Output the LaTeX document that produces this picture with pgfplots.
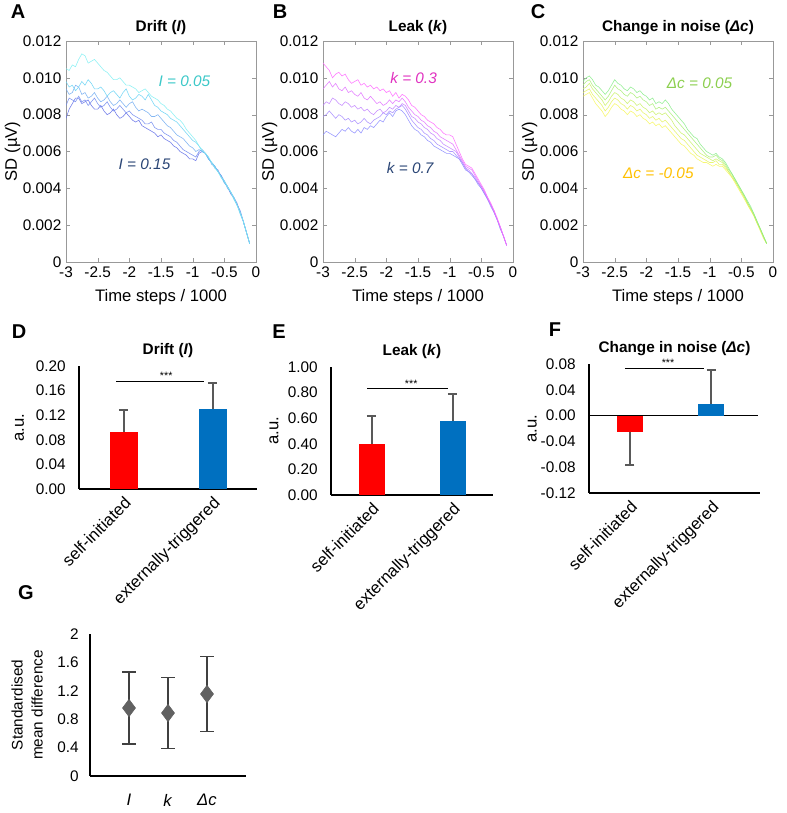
\documentclass[border=0pt]{standalone}
\usepackage{fontspec}
\setmainfont{Liberation Sans}
\usepackage{pgfplots}
\usepackage{pgfplotstable}
\pgfplotsset{compat=1.18}

\definecolor{cA1}{HTML}{7FEFF2}
\definecolor{cA2}{HTML}{66D2F4}
\definecolor{cA3}{HTML}{6FAAF0}
\definecolor{cA4}{HTML}{6F88EE}
\definecolor{cA5}{HTML}{5F6CE6}
\definecolor{cB1}{HTML}{FF66FF}
\definecolor{cB2}{HTML}{E070FF}
\definecolor{cB3}{HTML}{C080FF}
\definecolor{cB4}{HTML}{A488FF}
\definecolor{cB5}{HTML}{8A8AFF}
\definecolor{cC1}{HTML}{86EC86}
\definecolor{cC2}{HTML}{A6EE72}
\definecolor{cC3}{HTML}{C8F064}
\definecolor{cC4}{HTML}{E4F25E}
\definecolor{cC5}{HTML}{F6F65A}
\definecolor{lblcyan}{HTML}{3CC8C8}
\definecolor{lblnavy}{HTML}{2B4676}
\definecolor{lblmag}{HTML}{E033C0}
\definecolor{lblgreen}{HTML}{8CCF4F}
\definecolor{lblgold}{HTML}{FFC000}
\definecolor{barred}{HTML}{FF0000}
\definecolor{barblue}{HTML}{0070C0}
\definecolor{errgray}{HTML}{595959}

\newcommand{\ticksize}{\fontsize{11.5}{13}\selectfont}
\newcommand{\labsize}{\fontsize{12.5}{15}\selectfont}
\newcommand{\titsize}{\fontsize{11.5}{13}\selectfont}

% SD traces, x in 1000 time steps, SD in units of 0.001 muV
\pgfplotstableread{
x a b c d e
-3.00 10.5 9.8 9.4 8.5 7.8
-2.95 10.4 9.5 9.1 8.9 8.3
-2.90 10.7 9.6 9.2 8.8 8.6
-2.85 10.6 9.3 9.6 8.7 8.9
-2.80 11.0 9.5 9.5 9.0 8.9
-2.75 11.3 9.8 9.1 8.7 8.6
-2.70 11.2 9.6 9.2 8.8 8.7
-2.65 10.8 9.9 8.9 8.5 8.8
-2.60 10.9 9.7 9.0 8.7 8.5
-2.55 11.0 9.4 9.2 8.9 8.3
-2.50 10.8 9.4 8.9 8.6 8.3
-2.45 10.6 9.5 8.7 8.4 8.5
-2.40 10.4 9.3 8.8 8.5 8.2
-2.35 10.3 9.0 9.0 8.7 8.0
-2.30 10.1 9.2 8.7 8.4 8.1
-2.25 9.9 9.3 8.5 8.2 8.3
-2.20 9.9 9.1 8.6 8.3 8.0
-2.15 10.0 8.9 8.8 8.5 7.8
-2.10 9.8 9.2 8.6 8.3 7.9
-2.05 9.6 9.4 8.4 8.1 8.1
-2.00 9.6 9.0 8.6 8.2 7.9
-1.95 9.5 8.8 8.7 8.0 7.7
-1.90 9.4 8.9 8.4 7.9 7.6
-1.85 9.2 9.1 8.2 7.8 7.7
-1.80 9.3 9.0 8.3 7.7 7.4
-1.75 9.4 8.8 8.2 7.5 7.3
-1.70 9.2 9.1 8.1 7.5 7.2
-1.65 9.0 8.8 7.9 7.6 7.1
-1.60 8.9 8.5 7.9 7.3 7.0
-1.55 8.8 8.4 8.0 7.2 6.8
-1.50 8.6 8.2 7.8 7.2 6.9
-1.45 8.5 8.1 7.6 7.0 6.7
-1.40 8.3 8.0 7.4 6.9 6.6
-1.35 8.2 7.8 7.3 6.8 6.5
-1.30 8.0 7.7 7.1 6.6 6.3
-1.25 7.8 7.6 6.9 6.5 6.2
-1.20 7.7 7.4 6.8 6.3 6.0
-1.15 7.5 7.2 6.7 6.1 5.9
-1.10 7.2 7.0 6.5 6.0 5.8
-1.05 7.0 6.8 6.3 5.9 5.6
-1.00 6.8 6.6 6.2 5.8 5.6
-0.95 6.6 6.5 6.0 5.7 5.5
-0.90 6.3 6.3 6.1 6.0 5.9
-0.85 6.1 6.0 6.0 6.1 6.0
-0.80 5.9 5.9 5.9 5.9 5.9
-0.75 5.7 5.6 5.7 5.6 5.6
-0.70 5.4 5.4 5.3 5.4 5.4
-0.65 5.1 5.2 5.2 5.1 5.2
-0.60 4.9 4.9 4.9 5.0 4.9
-0.55 4.6 4.6 4.7 4.6 4.7
-0.50 4.4 4.3 4.4 4.4 4.3
-0.45 4.1 4.1 4.0 4.1 4.1
-0.40 3.8 3.8 3.8 3.8 3.7
-0.35 3.5 3.4 3.5 3.5 3.5
-0.30 3.1 3.1 3.1 3.1 3.2
-0.25 2.7 2.6 2.7 2.8 2.7
-0.20 2.2 2.2 2.2 2.2 2.2
-0.15 1.6 1.6 1.6 1.6 1.6
-0.10 1.0 1.0 1.0 1.0 1.0
}\tabA

\pgfplotstableread{
x a b c d e
-3.00 10.8 9.4 8.5 7.9 6.9
-2.95 10.6 9.6 8.7 8.0 7.1
-2.90 10.4 9.8 8.6 8.2 7.0
-2.85 10.0 9.5 8.9 8.0 6.9
-2.80 10.2 9.7 8.8 7.8 6.8
-2.75 10.3 9.4 8.6 8.0 7.0
-2.70 10.1 9.3 8.5 7.9 7.2
-2.65 10.2 9.5 8.7 7.7 7.1
-2.60 9.9 9.2 8.6 7.8 7.3
-2.55 9.7 9.3 8.4 7.6 7.1
-2.50 9.8 9.1 8.5 7.7 7.0
-2.45 9.9 9.0 8.3 7.5 7.2
-2.40 9.6 9.2 8.4 7.6 7.0
-2.35 9.7 8.9 8.2 7.8 7.3
-2.30 9.5 8.8 8.3 7.6 7.2
-2.25 9.6 9.0 8.1 7.5 7.4
-2.20 9.4 8.8 8.0 7.7 7.3
-2.15 9.5 8.6 8.2 7.8 7.5
-2.10 9.3 8.7 8.3 7.9 7.7
-2.05 9.4 8.5 8.1 8.1 7.6
-2.00 9.2 8.6 8.2 8.0 7.9
-1.95 9.3 8.8 8.4 8.2 8.1
-1.90 9.0 8.6 8.3 8.1 7.9
-1.85 9.2 8.8 8.5 8.3 8.2
-1.80 8.9 8.7 8.4 8.4 8.3
-1.75 9.1 8.9 8.6 8.5 8.2
-1.70 9.0 8.7 8.5 8.3 8.0
-1.65 8.8 8.4 8.2 8.0 7.7
-1.60 8.5 8.2 7.9 7.7 7.4
-1.55 8.4 8.0 7.8 7.5 7.2
-1.50 8.2 7.9 7.6 7.3 7.1
-1.45 8.0 7.7 7.5 7.2 6.9
-1.40 7.9 7.6 7.3 7.0 6.8
-1.35 7.7 7.4 7.2 6.9 6.6
-1.30 7.6 7.3 7.0 6.7 6.5
-1.25 7.5 7.1 6.9 6.6 6.3
-1.20 7.3 7.0 6.7 6.4 6.2
-1.15 7.2 6.8 6.6 6.3 6.1
-1.10 7.0 6.7 6.4 6.2 6.0
-1.05 6.9 6.6 6.3 6.1 5.9
-1.00 6.9 6.5 6.2 6.0 5.9
-0.95 6.8 6.4 6.1 6.0 5.8
-0.90 6.4 6.1 6.0 5.8 5.7
-0.85 6.0 5.8 5.7 5.6 5.6
-0.80 5.6 5.5 5.4 5.4 5.3
-0.75 5.3 5.2 5.1 5.1 5.0
-0.70 5.2 5.1 5.0 4.9 4.9
-0.65 5.1 5.0 4.8 4.8 4.7
-0.60 4.8 4.7 4.6 4.5 4.5
-0.55 4.5 4.4 4.3 4.3 4.2
-0.50 4.2 4.1 4.1 4.0 4.0
-0.45 3.9 3.8 3.8 3.7 3.7
-0.40 3.5 3.5 3.4 3.4 3.4
-0.35 3.2 3.1 3.1 3.1 3.0
-0.30 2.8 2.8 2.7 2.7 2.7
-0.25 2.4 2.3 2.3 2.3 2.3
-0.20 1.9 1.9 1.9 1.8 1.8
-0.15 1.4 1.4 1.4 1.4 1.4
-0.10 0.9 0.9 0.9 0.9 0.9
}\tabB

\pgfplotstableread{
x a b c d e
-3.00 9.8 9.6 9.4 9.2 9.0
-2.95 10.0 9.8 9.5 9.3 9.1
-2.90 10.1 9.9 9.7 9.4 9.2
-2.85 9.9 9.6 9.4 9.1 8.9
-2.80 9.6 9.4 9.2 8.9 8.6
-2.75 9.5 9.2 9.0 8.7 8.4
-2.70 9.3 9.0 8.8 8.5 8.2
-2.65 9.1 8.8 8.5 8.2 7.9
-2.60 9.3 9.0 8.7 8.4 8.1
-2.55 9.6 9.3 9.0 8.7 8.4
-2.50 9.9 9.6 9.2 8.9 8.6
-2.45 9.7 9.4 9.1 8.8 8.5
-2.40 9.6 9.3 8.9 8.6 8.3
-2.35 9.4 9.1 8.8 8.5 8.2
-2.30 9.3 9.0 8.6 8.3 8.0
-2.25 9.5 9.2 8.8 8.5 8.2
-2.20 9.4 9.1 8.7 8.4 8.1
-2.15 9.2 8.9 8.5 8.2 7.9
-2.10 9.3 9.0 8.6 8.3 8.0
-2.05 9.1 8.8 8.4 8.1 7.8
-2.00 9.0 8.7 8.3 8.0 7.7
-1.95 8.8 8.5 8.1 7.8 7.5
-1.90 8.9 8.6 8.2 7.9 7.6
-1.85 8.6 8.3 8.0 7.7 7.4
-1.80 8.7 8.4 8.1 7.8 7.5
-1.75 8.6 8.3 8.0 7.6 7.3
-1.70 8.8 8.4 8.1 7.7 7.4
-1.65 8.6 8.2 7.9 7.5 7.2
-1.60 8.3 8.0 7.7 7.3 7.0
-1.55 8.1 7.8 7.4 7.1 6.8
-1.50 7.9 7.6 7.2 6.9 6.6
-1.45 7.7 7.4 7.0 6.7 6.4
-1.40 7.5 7.2 6.9 6.6 6.3
-1.35 7.2 7.0 6.7 6.4 6.1
-1.30 7.0 6.8 6.5 6.2 5.9
-1.25 6.8 6.6 6.3 6.0 5.8
-1.20 6.7 6.4 6.1 5.8 5.6
-1.15 6.4 6.2 5.9 5.7 5.5
-1.10 6.2 6.0 5.8 5.6 5.4
-1.05 6.0 5.8 5.7 5.5 5.4
-1.00 5.9 5.7 5.6 5.4 5.3
-0.95 5.8 5.7 5.5 5.4 5.2
-0.90 5.9 5.8 5.6 5.5 5.3
-0.85 5.7 5.6 5.5 5.3 5.2
-0.80 5.6 5.5 5.4 5.3 5.2
-0.75 5.4 5.3 5.2 5.1 5.0
-0.70 5.1 5.0 4.9 4.9 4.8
-0.65 4.8 4.8 4.7 4.6 4.6
-0.60 4.5 4.5 4.4 4.4 4.3
-0.55 4.2 4.2 4.1 4.1 4.0
-0.50 3.9 3.9 3.8 3.8 3.7
-0.45 3.6 3.6 3.5 3.5 3.4
-0.40 3.3 3.2 3.2 3.1 3.1
-0.35 3.0 2.9 2.9 2.8 2.8
-0.30 2.6 2.6 2.5 2.5 2.5
-0.25 2.2 2.2 2.1 2.1 2.1
-0.20 1.8 1.8 1.8 1.7 1.7
-0.15 1.4 1.4 1.4 1.3 1.3
-0.10 1.0 1.0 1.0 1.0 1.0
}\tabC

\pgfplotsset{
  /pgf/number format/assume math mode=true,
  tracebox/.style={
    scale only axis, width=142.5pt, height=165.75pt,
    xmin=-3, xmax=0, ymin=0, ymax=12,
    xtick={-3,-2.5,-2,-1.5,-1,-0.5,0},
    ytick={0,2,4,6,8,10,12},
    yticklabels={0,0.002,0.004,0.006,0.008,0.010,0.012},
    axis line style={black!40}, tick style={black!40},
    major tick length=3pt,
    tick label style={font=\ticksize},
    xlabel={Time steps / 1000}, ylabel={SD (µV)},
    label style={font=\labsize},
    xlabel style={yshift=-2pt},
    ylabel style={yshift=-5pt},
    title style={font=\titsize\bfseries, yshift=-5pt},
    every axis plot/.append style={line width=0.45pt, opacity=0.85},
  },
  barbox/.style={
    scale only axis, xmin=-0.5, xmax=1.5, clip=false,
    axis x line*=bottom, axis y line*=left,
    axis line style={-, black, line width=0.8pt},
    xtick={0,1}, xticklabels={self-initiated,externally-triggered},
    x tick label style={rotate=45, anchor=north east, font=\labsize},
    y tick label style={font=\ticksize, xshift=-6.5pt},
    yticklabel style={/pgf/number format/fixed, /pgf/number format/fixed zerofill, /pgf/number format/precision=2},
    major tick length=0pt,
    ylabel={a.u.}, label style={font=\labsize},
    title style={font=\titsize\bfseries, yshift=-3pt},
  },
  barerr/.style={
    ybar, bar shift=0pt, draw=none,
    error bars/y explicit,
    error bars/error bar style={errgray, line width=1.5pt},
    error bars/error mark options={errgray, rotate=90, mark size=3.4pt, line width=1.5pt},
  },
}

\begin{document}
\begin{tikzpicture}
\useasboundingbox (0,0) rectangle (590.25pt,609.75pt);

% ---------- A: drift ----------
\begin{axis}[tracebox, at={(49.5pt,413.25pt)}, anchor=south west,
  title={Drift (\textit{I})}]
  \addplot[cA5] table[x=x,y=e]{\tabA};
  \addplot[cA4] table[x=x,y=d]{\tabA};
  \addplot[cA3] table[x=x,y=c]{\tabA};
  \addplot[cA2] table[x=x,y=b]{\tabA};
  \addplot[cA1] table[x=x,y=a]{\tabA};
  \node[text=lblcyan, font=\titsize] at (axis cs:-1.13,9.8) {\textit{I = 0.05}};
  \node[text=lblnavy, font=\titsize] at (axis cs:-1.76,5.3) {\textit{I = 0.15}};
\end{axis}

% ---------- B: leak ----------
\begin{axis}[tracebox, at={(242.25pt,413.25pt)}, anchor=south west,
  title={Leak (\textit{k})}]
  \addplot[cB5] table[x=x,y=e]{\tabB};
  \addplot[cB4] table[x=x,y=d]{\tabB};
  \addplot[cB3] table[x=x,y=c]{\tabB};
  \addplot[cB2] table[x=x,y=b]{\tabB};
  \addplot[cB1] table[x=x,y=a]{\tabB};
  \node[text=lblmag, font=\titsize] at (axis cs:-1.57,10.0) {\textit{k = 0.3}};
  \node[text=lblnavy, font=\titsize] at (axis cs:-1.62,5.1) {\textit{k = 0.7}};
\end{axis}

% ---------- C: change in noise ----------
\begin{axis}[tracebox, at={(437.25pt,413.25pt)}, anchor=south west,
  title={Change in noise (\textit{Δc})}]
  \addplot[cC5] table[x=x,y=e]{\tabC};
  \addplot[cC4] table[x=x,y=d]{\tabC};
  \addplot[cC3] table[x=x,y=c]{\tabC};
  \addplot[cC2] table[x=x,y=b]{\tabC};
  \addplot[cC1] table[x=x,y=a]{\tabC};
  \node[text=lblgreen, font=\titsize] at (axis cs:-1.16,9.7) {\textit{Δc = 0.05}};
  \node[text=lblgold, font=\titsize] at (axis cs:-1.81,4.8) {\textit{Δc = -0.05}};
\end{axis}

% ---------- D ----------
\begin{axis}[barbox, at={(59.25pt,243pt)}, anchor=south west,
  width=133.5pt, height=92.25pt, ymin=0, ymax=0.2,
  ytick={0,0.04,0.08,0.12,0.16,0.2}, title={Drift (\textit{I})},
  ylabel style={yshift=2pt}]
  \addplot[barerr, fill=barred, bar width=21pt, error bars/y dir=plus]
    coordinates {(0,0.093) +- (0,0.035)};
  \addplot[barerr, fill=barblue, bar width=21pt, error bars/y dir=plus]
    coordinates {(1,0.130) +- (0,0.042)};
  \addplot[black, line width=1.1pt] coordinates {(-0.08,0.175) (0.90,0.175)};
  \node[font=\fontsize{8}{9}\selectfont, anchor=south, inner sep=1pt] at (axis cs:0.48,0.175) {***};
\end{axis}

% ---------- E ----------
\begin{axis}[barbox, at={(248.25pt,238.5pt)}, anchor=south west,
  width=121.5pt, height=96pt, ymin=0, ymax=1,
  ytick={0,0.2,0.4,0.6,0.8,1}, title={Leak (\textit{k})}]
  \addplot[barerr, fill=barred, bar width=19.5pt, error bars/y dir=plus]
    coordinates {(0,0.40) +- (0,0.217)};
  \addplot[barerr, fill=barblue, bar width=19.5pt, error bars/y dir=plus]
    coordinates {(1,0.58) +- (0,0.21)};
  \addplot[black, line width=1.1pt] coordinates {(-0.05,0.83) (0.94,0.83)};
  \node[font=\fontsize{8}{9}\selectfont, anchor=south, inner sep=1pt] at (axis cs:0.49,0.83) {***};
\end{axis}

% ---------- F ----------
\begin{axis}[barbox, at={(441.75pt,240pt)}, anchor=south west,
  width=128.25pt, height=96.75pt, xmax=1.6, ymin=-0.12, ymax=0.08,
  ytick={-0.12,-0.08,-0.04,0,0.04,0.08}, title={Change in noise (\textit{Δc})},
  ylabel style={yshift=-4pt}]
  \draw[black, line width=0.8pt] (axis cs:-0.5,0) -- (axis cs:1.57,0);
  \addplot[barerr, fill=barred, bar width=19.5pt, error bars/y dir=minus]
    coordinates {(0,-0.026) +- (0,0.050)};
  \addplot[barerr, fill=barblue, bar width=19.5pt, error bars/y dir=plus]
    coordinates {(1,0.0186) +- (0,0.0514)};
  \addplot[black, line width=1.1pt] coordinates {(-0.06,0.073) (0.91,0.073)};
  \node[font=\fontsize{8}{9}\selectfont, anchor=south, inner sep=1pt] at (axis cs:0.47,0.073) {***};
\end{axis}

% ---------- G ----------
\begin{axis}[scale only axis, at={(67.5pt,27.75pt)}, anchor=south west,
  width=117pt, height=106.5pt,
  xmin=0, xmax=4, ymin=0, ymax=2,
  axis x line*=bottom, axis y line*=left,
  axis line style={-, black, line width=0.8pt},
  xtick={1,2,3}, xticklabels={\textit{I},\textit{k},\textit{Δc}},
  x tick label style={font=\labsize, yshift=-10pt},
  ytick={0,0.4,0.8,1.2,1.6,2}, y tick label style={font=\ticksize, xshift=-5pt},
  major tick length=0pt,
  ylabel={Standardised\\mean difference},
  ylabel style={align=center, font=\fontsize{11.5}{15}\selectfont, yshift=4pt}]
  \addplot[only marks, mark=diamond*, mark size=6.5pt, color=black!62,
    error bars/.cd, y dir=both, y explicit,
    error bar style={black!75, line width=0.8pt},
    error mark options={black!75, rotate=90, mark size=5pt, line width=0.8pt}]
    coordinates {(1,0.958) +- (0,0.507) (2,0.887) +- (0,0.500) (3,1.155) +- (0,0.530)};
\end{axis}

% panel letters
\node[font=\fontsize{15}{17}\selectfont\bfseries] at (13.5pt,600.75pt) {A};
\node[font=\fontsize{15}{17}\selectfont\bfseries] at (210pt,600.75pt) {B};
\node[font=\fontsize{15}{17}\selectfont\bfseries] at (403.5pt,600.75pt) {C};
\node[font=\fontsize{15}{17}\selectfont\bfseries] at (14.25pt,360.75pt) {D};
\node[font=\fontsize{15}{17}\selectfont\bfseries] at (209.25pt,360.75pt) {E};
\node[font=\fontsize{15}{17}\selectfont\bfseries] at (416.25pt,362.25pt) {F};
\node[font=\fontsize{15}{17}\selectfont\bfseries] at (19.5pt,165pt) {G};
\end{tikzpicture}
\end{document}
